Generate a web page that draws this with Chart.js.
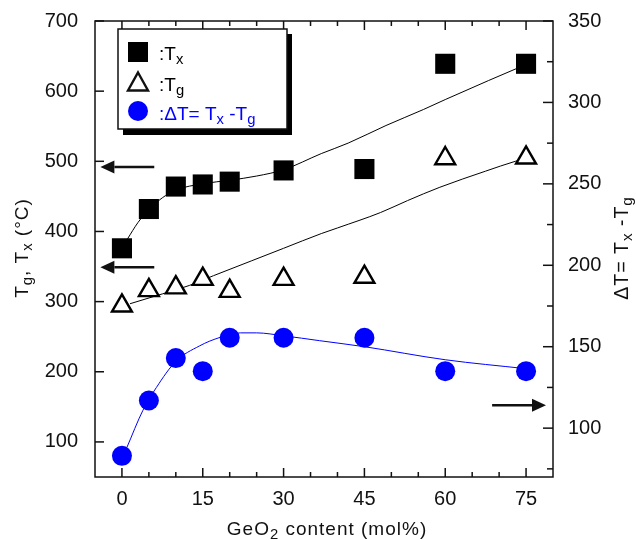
<!DOCTYPE html>
<html>
<head>
<meta charset="utf-8">
<script src="https://cdn.jsdelivr.net/npm/chart.js@4.4.0/dist/chart.umd.min.js"></script>
<style>
  html, body { margin: 0; padding: 0; background: #fff; }
  #wrap { width: 636px; height: 540px; }
</style>
</head>
<body>
<div id="wrap"><canvas id="glassChart" width="636" height="540"></canvas></div>
<script>
// GeO2 content (mol%)
var geo2 = [0, 5, 10, 15, 20, 30, 45, 60, 75];
// crystallisation / glass transition temperatures (°C), left axis
var tx = [376, 432, 464, 467, 471, 487, 489, 639, 639];
var tg = [294, 316, 320, 332, 315, 332, 335, 504, 505];
// ΔT = Tx - Tg, right axis
var deltaT = [83, 117, 143, 135, 155.5, 155.5, 155.5, 135, 135];

// fitted guide curves, [x, y]
var txFit = [[1, 389], [3, 413], [5, 431], [7.5, 448], [10, 459], [15, 468], [20, 473], [25, 479],
             [30, 488], [37, 511], [42, 526], [49, 551], [56, 574], [60, 588], [68, 615], [75, 638]];
var tgFit = [[1.5, 297], [7.5, 311], [12.5, 323], [17, 337], [24, 358], [30, 376], [37, 397],
             [40, 405], [48, 427], [53, 444], [59, 463], [67.5, 486], [73, 500], [75, 504]];
var dtFit = [[0.9, 88], [3.9, 111], [6.4, 125], [10, 141], [14.4, 150.5], [18, 155.5], [22, 158.5],
             [25, 158.5], [30, 156.7], [36.7, 153.7], [45, 150], [60, 142], [75, 136.5]];

// tick labels
var xTicks = [0, 15, 30, 45, 60, 75];
var leftTicks = [100, 200, 300, 400, 500, 600, 700];
var rightTicks = [100, 150, 200, 250, 300, 350];

// axis pointers: which axis each data group belongs to
var arrows = [
  { axis: 'y', y: 492, from: 6, to: -4 },
  { axis: 'y', y: 349, from: 6, to: -4 },
  { axis: 'y2', y: 114, from: 68.7, to: 78.7 }
];

var FONT = '"Liberation Sans", Arial, Helvetica, sans-serif';
var BLUE = 'rgb(0,0,255)';

function pts(xs, ys) {
  return xs.map(function(x, i) { return { x: x, y: ys[i] }; });
}
function pairs(list) {
  return list.map(function(p) { return { x: p[0], y: p[1] }; });
}

function line(c, x1, y1, x2, y2) {
  c.beginPath();
  c.moveTo(x1, y1);
  c.lineTo(x2, y2);
  c.stroke();
}

function arrow(c, x1, y, x2) {
  var dir = x2 > x1 ? 1 : -1;
  var head = 14;
  c.lineWidth = 2.5;
  line(c, x1, y, x2 - dir * head, y);
  c.beginPath();
  c.moveTo(x2, y);
  c.lineTo(x2 - dir * head, y - 6.5);
  c.lineTo(x2 - dir * head, y + 6.5);
  c.closePath();
  c.fill();
}

// text with subscripts: parts = [[text, isSub], ...]
var SUB = 0.78;
function richWidth(c, parts, size) {
  var w = 0;
  parts.forEach(function(p) {
    c.font = (p[1] ? size * SUB : size) + 'px ' + FONT;
    w += c.measureText(p[0]).width;
  });
  return w;
}
function richText(c, parts, x, y, size, center) {
  if (center) x -= richWidth(c, parts, size) / 2;
  parts.forEach(function(p) {
    c.font = (p[1] ? size * SUB : size) + 'px ' + FONT;
    c.fillText(p[0], x, y + (p[1] ? size * 0.22 : 0));
    x += c.measureText(p[0]).width;
  });
}

var framePlugin = {
  id: 'frame',
  afterDatasetsDraw: function(chart) {
    var c = chart.ctx, a = chart.chartArea;
    var sx = chart.scales.x, sy = chart.scales.y, sr = chart.scales.y2;
    c.save();
    c.strokeStyle = '#111';
    c.fillStyle = '#111';
    c.lineWidth = 1.5;
    c.strokeRect(a.left, a.top, a.right - a.left, a.bottom - a.top);

    // inward ticks, top and bottom
    for (var v = 0; v <= 75; v += 5) {
      var px = sx.getPixelForValue(v);
      var len = v % 15 === 0 ? 9 : 5;
      line(c, px, a.bottom, px, a.bottom - len);
      line(c, px, a.top, px, a.top + len);
    }
    leftTicks.forEach(function(t) {
      var py = sy.getPixelForValue(t);
      line(c, a.left, py, a.left + 9, py);
    });
    for (var r = 75; r <= 350; r += 25) {
      var pr = sr.getPixelForValue(r);
      line(c, a.right, pr, a.right - (r % 50 === 0 ? 10 : 6), pr);
    }

    // arrows pointing at the axis each series is read from
    arrows.forEach(function(ar) {
      var scale = chart.scales[ar.axis];
      arrow(c, sx.getPixelForValue(ar.from), scale.getPixelForValue(ar.y), sx.getPixelForValue(ar.to));
    });

    // legend box with drop shadow
    c.fillStyle = '#000';
    c.fillRect(123, 34, 169, 101);
    c.fillStyle = '#fff';
    c.fillRect(118, 29, 169, 100);
    c.lineWidth = 1.5;
    c.strokeStyle = '#111';
    c.strokeRect(118, 29, 169, 100);

    c.fillStyle = '#000';
    c.fillRect(128, 42, 20, 20);
    c.beginPath();
    c.moveTo(138, 72.5);
    c.lineTo(148, 90.5);
    c.lineTo(128, 90.5);
    c.closePath();
    c.lineWidth = 2.4;
    c.stroke();
    c.fillStyle = BLUE;
    c.beginPath();
    c.arc(138, 111, 10, 0, Math.PI * 2);
    c.fill();

    c.textBaseline = 'alphabetic';
    c.textAlign = 'left';
    c.fillStyle = '#000';
    richText(c, [[':T', false], ['x', true]], 159, 60, 19);
    richText(c, [[':T', false], ['g', true]], 159, 91, 19);
    c.fillStyle = BLUE;
    richText(c, [[':ΔT= T', false], ['x', true], [' -T', false], ['g', true]], 159, 120, 19);

    // axis titles
    c.fillStyle = '#111';
    c.letterSpacing = '1px';
    richText(c, [['GeO', false], ['2', true], [' content (mol%)', false]], 327, 535, 19, true);

    c.save();
    c.translate(28, 248);
    c.rotate(-Math.PI / 2);
    richText(c, [['T', false], ['g', true], [', T', false], ['x', true], [' (°C)', false]], 0, 0, 19, true);
    c.restore();

    c.save();
    c.translate(628, 248);
    c.rotate(-Math.PI / 2);
    richText(c, [['ΔT= T', false], ['x', true], [' -T', false], ['g', true]], 0, 0, 19.5, true);
    c.restore();

    c.restore();
  }
};

var tickFont = { family: FONT, size: 20 };

var chart = new Chart(document.getElementById('glassChart'), {
  type: 'scatter',
  data: {
    datasets: [
      {
        label: 'Tx', data: pts(geo2, tx), yAxisID: 'y', order: 1,
        pointStyle: 'rect', pointRadius: 14.2, pointHoverRadius: 14.2,
        backgroundColor: '#000', borderColor: '#000', borderWidth: 0
      },
      {
        label: 'Tg', data: pts(geo2, tg), yAxisID: 'y', order: 1,
        pointStyle: 'triangle', pointRadius: 11.5, pointHoverRadius: 11.5,
        backgroundColor: '#fff', borderColor: '#000', borderWidth: 2.4
      },
      {
        label: 'ΔT', data: pts(geo2, deltaT), yAxisID: 'y2', order: 1,
        pointStyle: 'circle', pointRadius: 10, pointHoverRadius: 10,
        backgroundColor: BLUE, borderWidth: 0
      },
      {
        label: 'Tx fit', data: pairs(txFit), yAxisID: 'y', order: 2,
        showLine: true, pointRadius: 0, borderColor: '#000', borderWidth: 1,
        cubicInterpolationMode: 'monotone'
      },
      {
        label: 'Tg fit', data: pairs(tgFit), yAxisID: 'y', order: 2,
        showLine: true, pointRadius: 0, borderColor: '#000', borderWidth: 1,
        cubicInterpolationMode: 'monotone'
      },
      {
        label: 'ΔT fit', data: pairs(dtFit), yAxisID: 'y2', order: 2,
        showLine: true, pointRadius: 0, borderColor: BLUE, borderWidth: 1,
        cubicInterpolationMode: 'monotone'
      }
    ]
  },
  options: {
    responsive: false,
    animation: false,
    events: [],
    layout: { padding: { top: 19, left: 0, right: 0, bottom: 0 } },
    plugins: { legend: { display: false }, tooltip: { enabled: false } },
    scales: {
      x: {
        type: 'linear', min: -5, max: 80,
        grid: { display: false }, border: { display: false },
        ticks: { padding: 2, color: '#111', font: tickFont, maxRotation: 0 },
        afterBuildTicks: function(s) { s.ticks = xTicks.map(function(v) { return { value: v }; }); },
        afterFit: function(s) { s.height = 63; }
      },
      y: {
        type: 'linear', position: 'left', min: 50, max: 700,
        grid: { display: false }, border: { display: false },
        ticks: { padding: 9, color: '#111', font: tickFont },
        afterBuildTicks: function(s) { s.ticks = leftTicks.map(function(v) { return { value: v }; }); },
        afterFit: function(s) { s.width = 95; }
      },
      y2: {
        type: 'linear', position: 'right', min: 70, max: 350,
        grid: { display: false }, border: { display: false },
        ticks: { padding: 7, color: '#111', font: tickFont },
        afterBuildTicks: function(s) { s.ticks = rightTicks.map(function(v) { return { value: v }; }); },
        afterFit: function(s) { s.width = 83; }
      }
    }
  },
  plugins: [framePlugin]
});
</script>
</body>
</html>
